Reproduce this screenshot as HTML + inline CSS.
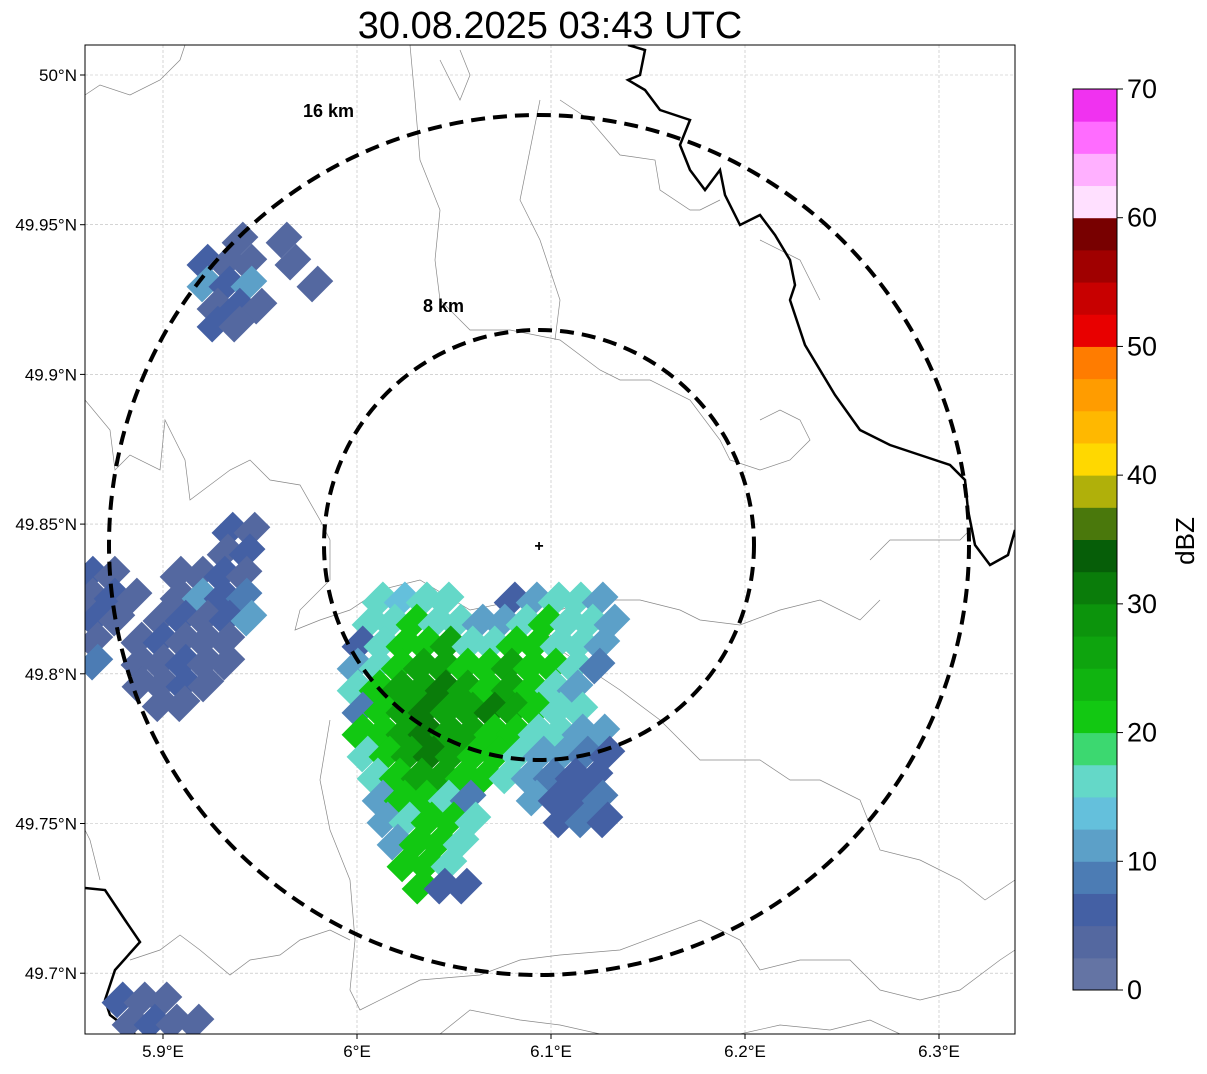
<!DOCTYPE html>
<html><head><meta charset="utf-8"><style>
body{margin:0;background:#fff;font-family:"Liberation Sans",sans-serif}
svg text{font-family:"Liberation Sans",sans-serif}
</style></head><body>
<svg id="chart" width="1207" height="1069" xmlns="http://www.w3.org/2000/svg">
<text x="550" y="38" font-size="38" text-anchor="middle">30.08.2025 03:43 UTC</text>
<defs><clipPath id="mapclip"><rect x="85" y="45" width="930" height="989"/></clipPath></defs>
<g id="grid"></g>
<g clip-path="url(#mapclip)">
<g id="borders" fill="none">
<polyline stroke="#888" stroke-width="0.7" points="85,95 100,85 130,95 160,80 180,60 185,45"/>
<polyline stroke="#888" stroke-width="0.7" points="85,400 110,430 115,470 130,455 160,470 165,420 175,440 185,460 190,500 230,470 250,460 270,480 300,485 320,520 330,540 330,580 300,610 295,630 320,620 350,610 380,590 420,580 470,610 520,600 560,610 590,600 640,600 680,610 700,620 740,625 780,610 820,600 860,620 880,600"/>
<polyline stroke="#888" stroke-width="0.7" points="410,45 415,100 420,160 440,210 435,260 440,300 470,330 510,330 560,340 600,370 620,380 650,380 690,400 720,440 730,460 760,470 790,460 810,440 800,420 780,410 760,420"/>
<polyline stroke="#888" stroke-width="0.7" points="440,60 460,100 470,75 460,50"/>
<polyline stroke="#888" stroke-width="0.7" points="540,100 530,150 520,200 540,240 560,300 555,340"/>
<polyline stroke="#888" stroke-width="0.7" points="560,100 590,120 620,155 655,160 660,190 690,210 700,210 720,200"/>
<polyline stroke="#888" stroke-width="0.7" points="760,240 800,260 820,300"/>
<polyline stroke="#888" stroke-width="0.7" points="540,620 560,650 620,690 660,720 700,760 760,760 790,780 820,780 860,800 880,850 920,860 960,880 985,900 1000,890 1015,880"/>
<polyline stroke="#888" stroke-width="0.7" points="870,560 890,540 920,540 960,540 970,530"/>
<polyline stroke="#888" stroke-width="0.7" points="330,720 320,780 330,830 350,880 355,940 350,990 360,1010 420,980 480,975 520,960 560,955 620,950 700,920 740,940 760,970 800,960 850,960 880,990 920,1000 960,990 1000,960 1015,950"/>
<polyline stroke="#888" stroke-width="0.7" points="130,960 160,950 180,935 200,950 230,975 250,960 280,955 300,940 330,930 350,940"/>
<polyline stroke="#888" stroke-width="0.7" points="440,1034 470,1010 520,1020 560,1025 600,1034"/>
<polyline stroke="#888" stroke-width="0.7" points="740,1034 780,1025 830,1030 870,1020 900,1034"/>
<polyline stroke="#888" stroke-width="0.7" points="100,880 90,840 85,830"/>
<polyline stroke="#000" stroke-width="2.5" points="628,45 645,50 640,75 628,80 645,90 660,110 690,120 680,145 690,170 705,190 720,170 725,195 740,225 760,215 775,235 790,260 795,285 790,300 805,345 820,370 835,395 860,430 890,445 920,455 950,465 965,480 968,510 975,545 990,565 1008,555 1015,530"/>
<polyline stroke="#000" stroke-width="2.5" points="85,888 105,890 125,920 140,942 115,970 105,1000 110,1015 135,1034"/>
</g>
<g id="cells"></g>
</g>
<g id="rings">
<circle cx="539" cy="545" r="430" fill="none" stroke="#000" stroke-width="4" stroke-dasharray="14,8"/>
<circle cx="539" cy="545" r="215" fill="none" stroke="#000" stroke-width="4" stroke-dasharray="14,8"/>
<text x="303" y="117" font-size="18" font-weight="bold">16 km</text>
<text x="423" y="312" font-size="18" font-weight="bold">8 km</text>
<text x="539" y="551" font-size="16" font-weight="bold" text-anchor="middle">+</text>
</g>
<rect x="85" y="45" width="930" height="989" fill="none" stroke="#000" stroke-width="1"/>
<g id="axes" font-size="17"></g>
<g id="cbar"></g>
<text transform="translate(1194,541) rotate(-90)" font-size="26" text-anchor="middle">dBZ</text>
</svg>
<script>
const lonTicks=[5.9,6.0,6.1,6.2,6.3];
const lonLabels=["5.9°E","6°E","6.1°E","6.2°E","6.3°E"];
const latTicks=[50.0,49.95,49.9,49.85,49.8,49.75,49.7];
const latLabels=["50°N","49.95°N","49.9°N","49.85°N","49.8°N","49.75°N","49.7°N"];
const cbarColors=["#6474a4","#5468a0","#4460a4","#4c7cb4","#5ca0c8","#64c0dc","#64d8c8","#3cd870","#12c812","#10b410","#0ea40e","#0c940c","#0a7c0a","#065e08","#4a780c","#b0b00a","#ffd800","#ffb800","#ff9c00","#ff7c00","#e80000","#c80000","#a00000","#780000","#ffe0ff","#ffb0ff","#ff6cff","#f032f0"];
const cbarTicks=[0,10,20,30,40,50,60,70];
// echo rows: latitude, starting longitude, dBZ sequence (null = no echo)
const rowLats=[49.8247,49.8173,49.8100,49.8026,49.7953,49.7879,49.7806,49.7732,49.7659,49.7585,49.7512,49.7438,49.7365,49.7291,
 49.9449,49.9375,49.9302,49.9228,49.9168,
 49.8480,49.8407,49.8333,49.8260,49.8186,49.8113,49.8039,49.7966,49.7900,
 49.6911,49.6837];
const rowLons=[6.0119,6.0067,6.0015,5.9990,5.9990,6.0015,6.0015,6.0041,6.0093,6.0119,6.0144,6.0196,6.0247,6.0325,
 5.9397,5.9216,5.9216,5.9268,5.9268,
 5.9345,5.9320,5.8624,5.8624,5.8649,5.8649,5.8649,5.8881,5.8985,
 5.8778,5.8830];
const rowVals=[
 [15,13,17,15,null,null,5,12,17,15,12],
 [17,15,20,17,15,12,10,15,20,17,15,12],
 [5,15,20,22,25,17,15,20,22,17,15,10],
 [12,17,22,25,27,22,20,25,20,22,15,8],
 [15,20,25,27,30,25,22,27,22,15,12],
 [8,20,25,30,27,25,30,25,20,17,15],
 [20,22,27,30,25,27,22,20,17,15,12,10],
 [17,22,25,30,27,22,20,17,12,10,8,5],
 [15,22,25,27,22,20,15,10,8,5,5],
 [12,20,22,17,8,null,null,10,5,5,8],
 [10,17,20,22,15,null,null,null,5,8,5],
 [12,20,22,17],
 [20,22,15],
 [22,5,5],
 [3,null,3],
 [5,3,3,null,3],
 [10,5,10,null,null,3],
 [3,5,3],
 [5,3],
 [5,3],
 [3,5],
 [5,3,null,null,3,3,5,3],
 [3,5,3,null,3,10,5,8],
 [5,3,null,3,5,3,5,10],
 [3,null,3,5,3,3,3],
 [8,null,3,3,5,3,3],
 [3,3,5,3],
 [3,3],
 [5,3,3],
 [3,5,3,3]];
const lonStep=0.01134;

const NS='http://www.w3.org/2000/svg';
const X=lon=>163+(lon-5.9)*1940;
const Y=lat=>75+(50-lat)*2994;
const CB=v=>990-v*(901/70);
function mk(tag,attrs,parent){const e=document.createElementNS(NS,tag);for(const k in attrs)e.setAttribute(k,attrs[k]);parent.appendChild(e);return e;}
const grid=document.getElementById('grid'),axes=document.getElementById('axes');
lonTicks.forEach((t,i)=>{const x=X(t);
 const l=mk('line',{x1:x,x2:x,y1:45,y2:1034,stroke:'#bbb','stroke-width':0.6,'stroke-dasharray':'3,2'},grid);
 
 const tk=mk('line',{x1:x,x2:x,y1:1034,y2:1039,stroke:'#000'},axes);
 
 const tx=mk('text',{x:x,y:1057,'text-anchor':'middle'},axes);tx.textContent=lonLabels[i];
 });
latTicks.forEach((t,i)=>{const y=Y(t);
 const l=mk('line',{x1:85,x2:1015,y1:y,y2:y,stroke:'#bbb','stroke-width':0.6,'stroke-dasharray':'3,2'},grid);
 
 const tk=mk('line',{x1:80,x2:85,y1:y,y2:y,stroke:'#000'},axes);
 
 const tx=mk('text',{x:77,y:y+6,'text-anchor':'end'},axes);tx.textContent=latLabels[i];
 });
const colorFor=v=>cbarColors[Math.max(0,Math.min(cbarColors.length-1,Math.floor(v/2.5)))];
const cells=document.getElementById('cells');
rowLats.forEach((lat,r)=>{rowVals[r].forEach((v,j)=>{if(v===null)return;
 const cx=X(rowLons[r]+j*lonStep),cy=Y(lat);
 const rc=mk('rect',{x:cx-15,y:cy-11,width:30,height:22,fill:colorFor(v),transform:`rotate(-45 ${cx} ${cy})`},cells);
 });});
const cbar=document.getElementById('cbar');
cbarColors.forEach((c,i)=>{const y1=CB((i+1)*2.5),y0=CB(i*2.5);
 const r=mk('rect',{x:1073,y:y1,width:44,height:y0-y1+0.5,fill:c},cbar);
 });
const fr=mk('rect',{x:1073,y:89,width:44,height:901,fill:'none',stroke:'#000'},cbar);

cbarTicks.forEach(t=>{const y=CB(t);
 const tk=mk('line',{x1:1117,x2:1123,y1:y,y2:y,stroke:'#000'},cbar);
 
 const tx=mk('text',{x:1127,y:y+9,'font-size':27},cbar);tx.textContent=t;
 });
</script>
</body></html>
